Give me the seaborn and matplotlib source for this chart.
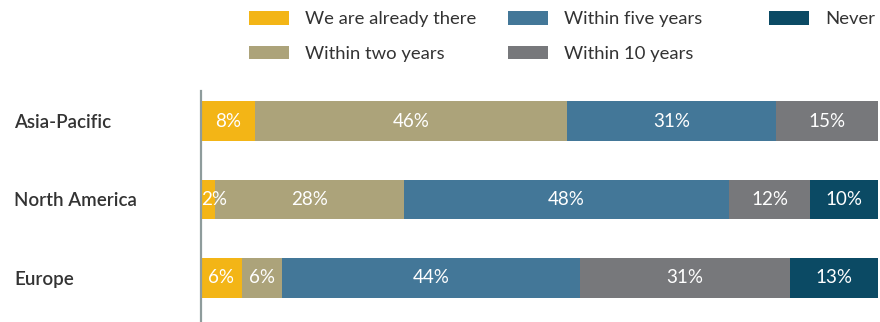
import matplotlib
matplotlib.use("Agg")
import matplotlib.pyplot as plt
from matplotlib.patches import Patch
import seaborn as sns
import numpy as np
import pandas as pd

categories = ["Asia-Pacific", "North America", "Europe"]
series_names = ["We are already there", "Within two years", "Within five years",
                "Within 10 years", "Never"]
already_there = [8, 2, 6]
within_two = [46, 28, 6]
within_five = [31, 48, 44]
within_ten = [15, 12, 31]
never = [0, 10, 13]
colors = ["#F3B516", "#ACA37A", "#437798", "#77787B", "#0B4A64"]

series = [already_there, within_two, within_five, within_ten, never]

sns.set_theme(style="white")
plt.rcParams["font.family"] = ["Lato", "DejaVu Sans"]

W, H = 880, 322
fig = plt.figure(figsize=(W / 100, H / 100), dpi=100)
ax_left, ax_right, ax_top = 201, 878, 91
ax = fig.add_axes([ax_left / W, 0, (ax_right - ax_left) / W, (H - ax_top) / H])

vals = np.array(series, dtype=float)  # shape (5, 3)
cum = np.cumsum(vals, axis=0)
for i in range(len(series) - 1, -1, -1):
    d = pd.DataFrame({"category": categories, "cum": cum[i]})
    sns.barplot(data=d, x="cum", y="category", orient="h", color=colors[i],
                saturation=1, width=0.51, linewidth=0, ax=ax, order=categories)

# segment labels
for i in range(len(series)):
    for j, cat in enumerate(categories):
        v = vals[i, j]
        if v <= 0:
            continue
        start = cum[i, j] - v
        xc = start + v / 2
        if v < 4:
            xc = start + 2.0
        ax.text(xc, j, f"{int(v)}%", ha="center", va="center", color="white",
                fontsize=13.5, fontweight="normal", clip_on=False)

ax.set_xlim(0, 100)
ax.set_ylim(2.566, -0.386)
ax.set_xlabel("")
ax.set_ylabel("")
ax.set_xticks([])
for s in ["top", "right", "bottom"]:
    ax.spines[s].set_visible(False)
ax.spines["left"].set_color("#8E9C9C")
ax.spines["left"].set_linewidth(1.6)
ax.tick_params(axis="y", length=0, pad=(ax_left - 14) * 72 / 100)
for lab in ax.get_yticklabels():
    lab.set_ha("left")
    lab.set_fontsize(13.5)
    lab.set_fontweight("semibold")
    lab.set_color("#333333")

# legend: three column groups at fixed positions
fs = 13.3
fs_px = fs * 100 / 72
cols = [(249, [0, 1]), (508, [2, 3]), (769, [4])]
for x0, idxs in cols:
    handles = [Patch(facecolor=colors[k], edgecolor="none") for k in idxs]
    labels = [series_names[k] for k in idxs]
    leg = fig.legend(handles, labels, loc="upper left",
                     bbox_to_anchor=(x0 / W, 1 - 11 / H), frameon=False,
                     borderpad=0, borderaxespad=0,
                     handlelength=40 / fs_px, handleheight=14 / fs_px,
                     handletextpad=16 / fs_px, labelspacing=1.0,
                     prop={"size": fs})
    for t in leg.get_texts():
        t.set_color("#333333")

fig.savefig("out.png", dpi=100)
